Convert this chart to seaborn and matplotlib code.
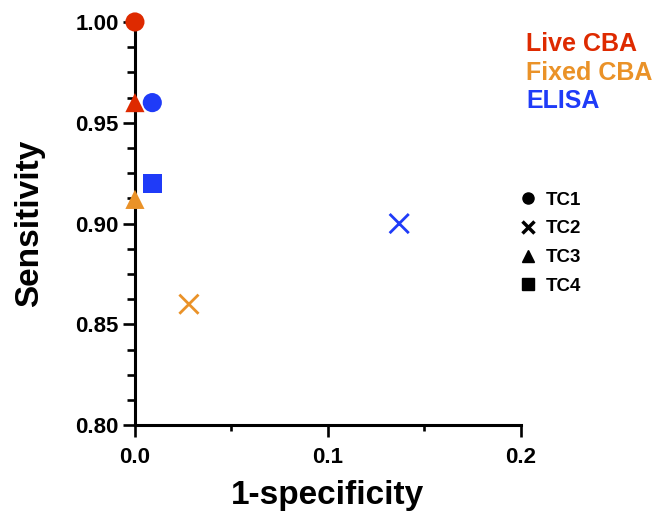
import pandas as pd
import matplotlib
matplotlib.use('Agg')
import matplotlib.pyplot as plt
import seaborn as sns
from matplotlib.lines import Line2D
from matplotlib.ticker import MultipleLocator

sns.set_style('ticks')
plt.rcParams['font.family'] = ['Liberation Sans', 'DejaVu Sans']
plt.rcParams['font.weight'] = 'bold'
plt.rcParams['text.color'] = 'black'
plt.rcParams['axes.labelcolor'] = 'black'
plt.rcParams['xtick.color'] = 'black'
plt.rcParams['ytick.color'] = 'black'
plt.rcParams['axes.edgecolor'] = 'black'

# Datos
assay = ['Live CBA', 'Live CBA', 'Fixed CBA', 'Fixed CBA', 'ELISA', 'ELISA', 'ELISA']
panel = ['TC1', 'TC3', 'TC2', 'TC3', 'TC1', 'TC2', 'TC4']
one_minus_spec = [0.0, 0.0, 0.028, 0.0, 0.009, 0.137, 0.009]
sensitivity = [1.00, 0.96, 0.86, 0.912, 0.96, 0.90, 0.92]

assay_order = ['Live CBA', 'Fixed CBA', 'ELISA']
assay_colors = {'Live CBA': '#DE2A00', 'Fixed CBA': '#EA9228', 'ELISA': '#1F3BF8'}
panel_order = ['TC1', 'TC2', 'TC3', 'TC4']
panel_markers = {'TC1': 'o', 'TC2': 'x', 'TC3': '^', 'TC4': 's'}

df = pd.DataFrame({'assay': assay, 'panel': panel,
                   'x': one_minus_spec, 'y': sensitivity})

fig = plt.figure(figsize=(6.55, 5.11), dpi=100)
ax = fig.add_axes([0.206, 0.168, 0.589, 0.789])

filled = df[df['panel'] != 'TC2']
crosses = df[df['panel'] == 'TC2']
filled_markers = {k: v for k, v in panel_markers.items() if k != 'TC2'}

sns.scatterplot(data=filled, x='x', y='y', hue='assay', style='panel',
                hue_order=assay_order, palette=assay_colors,
                markers=filled_markers, style_order=['TC1', 'TC3', 'TC4'],
                s=190, linewidth=0, legend=False, clip_on=False, zorder=5, ax=ax)
sns.scatterplot(data=crosses, x='x', y='y', hue='assay',
                hue_order=assay_order, palette=assay_colors,
                marker='x', s=190, linewidth=2, legend=False,
                clip_on=False, zorder=5, ax=ax)

ax.set_xlim(0, 0.2)
ax.set_ylim(0.80, 1.00)
ax.set_xticks([0.0, 0.1, 0.2])
ax.set_xticklabels(['0.0', '0.1', '0.2'])
ax.set_yticks([0.80, 0.85, 0.90, 0.95, 1.00])
ax.set_yticklabels(['0.80', '0.85', '0.90', '0.95', '1.00'])
ax.xaxis.set_minor_locator(MultipleLocator(0.05))
ax.yaxis.set_minor_locator(MultipleLocator(0.0125))

sns.despine(ax=ax)
for side in ['left', 'bottom']:
    ax.spines[side].set_linewidth(2.2)
ax.tick_params(axis='both', which='major', length=8.5, width=1.9,
               labelsize=16, color='black', labelcolor='black')
ax.tick_params(axis='y', which='major', pad=3)
ax.tick_params(axis='x', which='major', pad=7)
ax.tick_params(axis='y', which='minor', length=5.5, width=1.9, color='black')
ax.tick_params(axis='x', which='minor', length=4.5, width=1.9, color='black')
for lab in ax.get_xticklabels() + ax.get_yticklabels():
    lab.set_fontweight('bold')

ax.set_xlabel('1-specificity', fontsize=24, fontweight='bold', labelpad=9)
ax.set_ylabel('Sensitivity', fontsize=24, fontweight='bold', labelpad=22)

# Leyenda de colores (solo texto)
color_handles = [Line2D([], [], linestyle='none') for _ in assay_order]
leg1 = fig.legend(color_handles, assay_order, loc='upper left',
                  bbox_to_anchor=(0.788, 0.956), frameon=False,
                  handlelength=0, handletextpad=0, labelspacing=0.18,
                  prop={'size': 18, 'weight': 'bold'}, borderaxespad=0)
for txt, name in zip(leg1.get_texts(), assay_order):
    txt.set_color(assay_colors[name])

# Leyenda de formas
shape_handles = [Line2D([], [], marker=panel_markers[p], color='black',
                        linestyle='none', markersize=8,
                        markeredgewidth=2.5 if p == 'TC2' else 1)
                 for p in panel_order]
fig.legend(shape_handles, panel_order, loc='upper left',
           bbox_to_anchor=(0.783, 0.64), frameon=False,
           handlelength=0.8, handletextpad=0.55, labelspacing=0.62,
           prop={'size': 13.5, 'weight': 'bold'}, borderaxespad=0)

fig.savefig('out.png', dpi=100)
